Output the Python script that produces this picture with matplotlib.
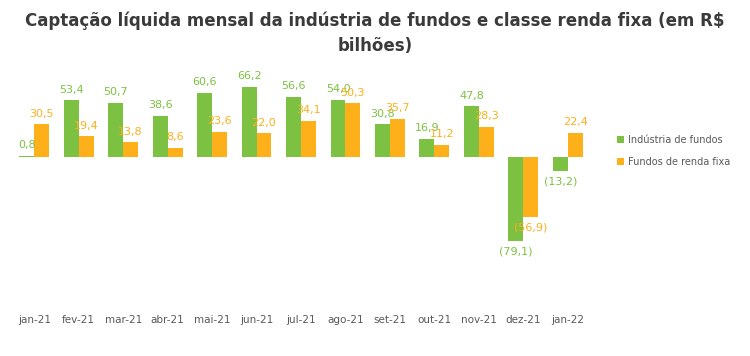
import numpy as np
import matplotlib.pyplot as plt

meses = ['jan-21', 'fev-21', 'mar-21', 'abr-21', 'mai-21', 'jun-21', 'jul-21',
         'ago-21', 'set-21', 'out-21', 'nov-21', 'dez-21', 'jan-22']
industria = [0.8, 53.4, 50.7, 38.6, 60.6, 66.2, 56.6, 54.0, 30.8, 16.9, 47.8, -79.1, -13.2]
renda_fixa = [30.5, 19.4, 13.8, 8.6, 23.6, 22.0, 34.1, 50.3, 35.7, 11.2, 28.3, -56.9, 22.4]

verde = '#7DC142'
laranja = '#FDB019'
cinza = '#595959'


def fmt(v):
    s = f'{abs(v):.1f}'.replace('.', ',')
    return f'({s})' if v < 0 else s


fig = plt.figure(figsize=(7.5, 3.56), dpi=100)
ax = fig.add_axes([12 / 750, 1 - 305 / 356, 578 / 750, 233 / 356])

x = np.arange(len(meses))
w = 0.335
b1 = ax.bar(x - w / 2, industria, w, color=verde, label='Indústria de fundos')
b2 = ax.bar(x + w / 2, renda_fixa, w, color=laranja, label='Fundos de renda fixa')

for bars, vals, cor in [(b1, industria, verde), (b2, renda_fixa, laranja)]:
    for r, v in zip(bars, vals):
        cx = r.get_x() + r.get_width() / 2
        if v >= 0:
            ax.annotate(fmt(v), (cx, v), xytext=(0, 4), textcoords='offset points',
                        ha='center', va='bottom', color=cor, fontsize=8)
        else:
            ax.annotate(fmt(v), (cx, v), xytext=(0, -4), textcoords='offset points',
                        ha='center', va='top', color=cor, fontsize=8)

ax.set_xlim(-0.5, len(meses) - 0.5)
ax.set_ylim(-140, 80)
ax.set_xticks(x)
ax.set_xticklabels(meses, color=cinza, fontsize=7.5)
ax.tick_params(axis='x', length=0, pad=7)
ax.set_yticks([])
for s in ax.spines.values():
    s.set_visible(False)

fig.legend(handles=[b1, b2], loc='center left', bbox_to_anchor=(608 / 750, 1 - 151 / 356),
           frameon=False, fontsize=7, labelcolor=cinza, handlelength=0.7, handleheight=0.7,
           handletextpad=0.5, labelspacing=1.2)

fig.text(0.5, 1 - 33 / 356, 'Captação líquida mensal da indústria de fundos e classe renda fixa (em R$\nbilhões)',
         ha='center', va='center', fontsize=12, fontweight='bold', color='#3A3A3A',
         linespacing=1.5)

fig.savefig('out.png', dpi=100)
